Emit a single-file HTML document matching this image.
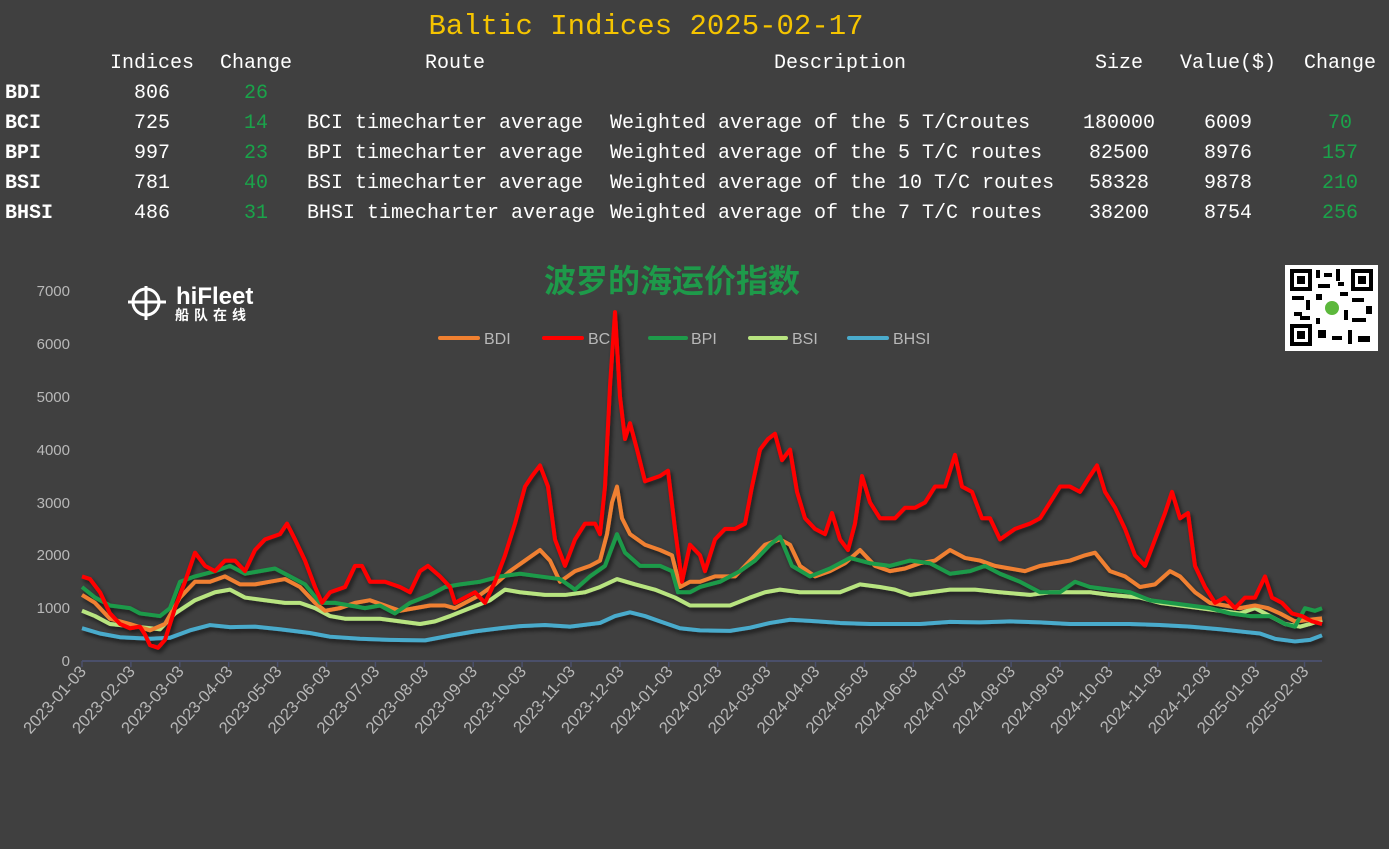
<!DOCTYPE html>
<html><head><meta charset="utf-8"><style>
body{margin:0;background:#404040;}
svg{display:block}
.t{font-family:"Liberation Mono",monospace;font-size:20px;fill:#fff}
.g{fill:#1aa34a}
.ax{font-family:"Liberation Sans",sans-serif;font-size:15px;fill:#b8b8b8}
.xa{font-family:"Liberation Sans",sans-serif;font-size:16.5px;fill:#b8b8b8}
</style></head><body>
<svg width="1389" height="849" viewBox="0 0 1389 849" xmlns="http://www.w3.org/2000/svg">
<defs><filter id="sh" x="-5%" y="-5%" width="110%" height="110%"><feDropShadow dx="2" dy="3" stdDeviation="2" flood-color="#000" flood-opacity="0.6"/></filter></defs>
<rect width="1389" height="849" fill="#404040"/>
<text x="646" y="34" text-anchor="middle" style="font-family:'Liberation Mono',monospace;font-size:29px;fill:#f5c400">Baltic Indices 2025-02-17</text>
<g class="t">
<text x="152" y="68" text-anchor="middle">Indices</text><text x="256" y="68" text-anchor="middle">Change</text>
<text x="455" y="68" text-anchor="middle">Route</text><text x="840" y="68" text-anchor="middle">Description</text>
<text x="1119" y="68" text-anchor="middle">Size</text><text x="1228" y="68" text-anchor="middle">Value($)</text><text x="1340" y="68" text-anchor="middle">Change</text>
<text x="5" y="98" font-weight="bold">BDI</text><text x="152" y="98" text-anchor="middle">806</text><text x="256" y="98" text-anchor="middle" class="g">26</text>
<text x="5" y="128" font-weight="bold">BCI</text><text x="152" y="128" text-anchor="middle">725</text><text x="256" y="128" text-anchor="middle" class="g">14</text><text x="307" y="128">BCI timecharter average</text><text x="610" y="128">Weighted average of the 5 T/Croutes</text><text x="1119" y="128" text-anchor="middle">180000</text><text x="1228" y="128" text-anchor="middle">6009</text><text x="1340" y="128" text-anchor="middle" class="g">70</text>
<text x="5" y="158" font-weight="bold">BPI</text><text x="152" y="158" text-anchor="middle">997</text><text x="256" y="158" text-anchor="middle" class="g">23</text><text x="307" y="158">BPI timecharter average</text><text x="610" y="158">Weighted average of the 5 T/C routes</text><text x="1119" y="158" text-anchor="middle">82500</text><text x="1228" y="158" text-anchor="middle">8976</text><text x="1340" y="158" text-anchor="middle" class="g">157</text>
<text x="5" y="188" font-weight="bold">BSI</text><text x="152" y="188" text-anchor="middle">781</text><text x="256" y="188" text-anchor="middle" class="g">40</text><text x="307" y="188">BSI timecharter average</text><text x="610" y="188">Weighted average of the 10 T/C routes</text><text x="1119" y="188" text-anchor="middle">58328</text><text x="1228" y="188" text-anchor="middle">9878</text><text x="1340" y="188" text-anchor="middle" class="g">210</text>
<text x="5" y="218" font-weight="bold">BHSI</text><text x="152" y="218" text-anchor="middle">486</text><text x="256" y="218" text-anchor="middle" class="g">31</text><text x="307" y="218">BHSI timecharter average</text><text x="610" y="218">Weighted average of the 7 T/C routes</text><text x="1119" y="218" text-anchor="middle">38200</text><text x="1228" y="218" text-anchor="middle">8754</text><text x="1340" y="218" text-anchor="middle" class="g">256</text>
</g>
<text x="672" y="292" text-anchor="middle" style="font-family:'Noto Sans CJK SC',sans-serif;font-size:32px;font-weight:bold;fill:#1e9a4a">波罗的海运价指数</text>
<g fill="#fff">
<circle cx="146" cy="302" r="13" fill="none" stroke="#fff" stroke-width="3"/><line x1="128" y1="302" x2="166" y2="302" stroke="#fff" stroke-width="3"/><line x1="146" y1="286" x2="146" y2="320" stroke="#fff" stroke-width="3"/>
<text x="176" y="304" style="font-family:'Liberation Sans',sans-serif;font-size:24px;font-weight:bold">hiFleet</text>
<text x="175" y="320" style="font-family:'Noto Sans CJK SC',sans-serif;font-size:14px;font-weight:bold;letter-spacing:5px">船队在线</text>
</g>
<rect x="1285" y="265" width="93" height="86" fill="#fff"/>
<g fill="#000">
<rect x="1290" y="269" width="22" height="22"/><rect x="1294" y="273" width="14" height="14" fill="#fff"/><rect x="1297" y="276" width="8" height="8"/>
<rect x="1351" y="269" width="22" height="22"/><rect x="1355" y="273" width="14" height="14" fill="#fff"/><rect x="1358" y="276" width="8" height="8"/>
<rect x="1290" y="324" width="22" height="22"/><rect x="1294" y="328" width="14" height="14" fill="#fff"/><rect x="1297" y="331" width="8" height="8"/>
<rect x="1316" y="270" width="4" height="8"/><rect x="1324" y="273" width="8" height="4"/><rect x="1336" y="269" width="4" height="12"/><rect x="1318" y="284" width="12" height="4"/><rect x="1292" y="296" width="12" height="4"/><rect x="1306" y="300" width="4" height="10"/><rect x="1294" y="312" width="8" height="4"/><rect x="1316" y="294" width="6" height="6"/><rect x="1340" y="292" width="8" height="4"/><rect x="1352" y="298" width="12" height="4"/><rect x="1366" y="306" width="6" height="8"/><rect x="1344" y="310" width="4" height="10"/><rect x="1352" y="318" width="14" height="4"/><rect x="1318" y="330" width="8" height="8"/><rect x="1332" y="336" width="10" height="4"/><rect x="1348" y="330" width="4" height="14"/><rect x="1358" y="336" width="12" height="6"/><rect x="1316" y="318" width="4" height="6"/><rect x="1338" y="282" width="6" height="4"/><rect x="1300" y="316" width="10" height="4"/>
</g>
<circle cx="1332" cy="308" r="7" fill="#5cb83c"/>
<g class="ax" text-anchor="end">
<text x="70" y="666">0</text><text x="70" y="613">1000</text><text x="70" y="560">2000</text><text x="70" y="508">3000</text><text x="70" y="455">4000</text><text x="70" y="402">5000</text><text x="70" y="349">6000</text><text x="70" y="296">7000</text>
</g>
<line x1="82" y1="661" x2="1322" y2="661" stroke="#4a4f6a" stroke-width="2"/>
<g stroke="#4a4f6a" stroke-width="1.5" id="ticks"></g>
<g class="xa" id="xl" text-anchor="end"></g>
<g style="font-family:'Liberation Sans',sans-serif;font-size:16px;fill:#b8b8b8" stroke-width="4" stroke-linecap="round">
<line x1="440" y1="338" x2="478" y2="338" stroke="#f08030"/><text x="484" y="344">BDI</text>
<line x1="544" y1="338" x2="582" y2="338" stroke="#ff0000"/><text x="588" y="344">BCI</text>
<line x1="650" y1="338" x2="686" y2="338" stroke="#1e9a4a"/><text x="691" y="344">BPI</text>
<line x1="750" y1="338" x2="786" y2="338" stroke="#b8e480"/><text x="792" y="344">BSI</text>
<line x1="849" y1="338" x2="887" y2="338" stroke="#4aabcc"/><text x="893" y="344">BHSI</text>
</g>
<g filter="url(#sh)">
<g transform="translate(0,661) scale(1,-0.05286)" fill="none" stroke-width="4" stroke-linejoin="round">
<polyline vector-effect="non-scaling-stroke" stroke="#4aabcc" points="82,620 100,520 120,450 150,420 170,440 190,580 210,680 230,640 255,650 280,600 310,530 330,460 360,420 390,400 425,390 450,480 475,560 500,620 520,660 545,680 570,650 600,720 615,850 630,920 645,850 660,750 680,620 700,580 730,570 750,630 770,720 790,780 810,760 840,720 870,700 890,700 920,700 950,740 980,730 1010,750 1040,730 1070,700 1100,700 1130,700 1160,680 1190,650 1220,600 1245,550 1260,520 1275,420 1295,370 1310,400 1322,486"/>
<polyline vector-effect="non-scaling-stroke" stroke="#b8e480" points="82,950 95,850 110,700 135,650 160,600 175,900 195,1150 215,1300 230,1350 245,1200 265,1150 285,1100 300,1100 315,1000 330,850 345,800 360,800 380,800 400,750 420,700 435,750 450,850 470,1000 490,1150 505,1350 520,1300 545,1250 565,1250 585,1300 600,1400 617,1550 635,1450 655,1350 675,1200 690,1050 710,1050 730,1050 750,1200 765,1300 780,1350 800,1300 820,1300 840,1300 860,1450 880,1400 895,1350 910,1250 930,1300 950,1350 975,1350 1000,1300 1030,1250 1050,1300 1070,1300 1090,1300 1110,1250 1140,1200 1160,1100 1180,1050 1200,1000 1220,950 1240,900 1255,1000 1270,850 1285,700 1300,650 1310,700 1322,781"/>
<polyline vector-effect="non-scaling-stroke" stroke="#f08030" points="82,1250 95,1100 110,800 130,700 150,580 165,700 180,1200 195,1500 210,1500 225,1600 240,1450 255,1450 270,1500 285,1550 300,1400 315,1100 325,950 340,1000 355,1100 370,1150 385,1050 400,950 415,1000 430,1050 445,1050 455,1000 465,1100 480,1250 495,1450 510,1700 525,1900 540,2100 550,1900 560,1500 575,1700 590,1800 600,1900 607,2400 612,3000 617,3300 622,2700 630,2400 645,2200 660,2100 672,2000 680,1400 690,1500 700,1500 715,1600 735,1600 750,1900 765,2200 780,2300 790,2200 800,1800 815,1600 830,1700 845,1850 860,2100 875,1800 890,1700 905,1750 920,1850 935,1900 950,2100 965,1950 980,1900 995,1800 1010,1750 1025,1700 1040,1800 1055,1850 1070,1900 1085,2000 1095,2050 1110,1700 1125,1600 1140,1400 1155,1450 1170,1700 1180,1600 1195,1300 1210,1100 1225,1050 1240,1000 1255,1050 1268,1000 1280,900 1295,750 1310,780 1322,806"/>
<polyline vector-effect="non-scaling-stroke" stroke="#1e9a4a" points="82,1400 95,1200 110,1050 130,1000 140,900 160,850 170,1000 180,1500 195,1600 215,1700 230,1800 245,1650 260,1700 275,1750 290,1600 305,1450 320,1100 335,1100 350,1050 365,1000 380,1050 395,900 410,1100 430,1250 445,1400 460,1450 480,1500 500,1600 520,1650 540,1600 560,1550 575,1350 590,1600 605,1800 617,2400 625,2050 640,1800 660,1800 672,1700 678,1300 690,1300 700,1400 720,1500 740,1700 755,1900 770,2200 780,2350 792,1800 810,1600 830,1750 850,1950 870,1850 890,1800 910,1900 930,1850 950,1650 970,1700 985,1800 1000,1650 1020,1500 1040,1300 1060,1300 1075,1500 1090,1400 1110,1350 1130,1300 1150,1150 1170,1100 1190,1050 1210,1000 1230,900 1250,850 1270,850 1285,700 1295,650 1305,1000 1315,950 1322,997"/>
<polyline vector-effect="non-scaling-stroke" stroke="#ff0000" points="82,1600 90,1550 100,1300 110,900 120,700 130,620 140,650 145,500 150,300 158,250 165,400 175,1000 185,1500 195,2050 205,1800 215,1700 225,1900 235,1900 245,1700 255,2100 265,2300 280,2400 287,2600 295,2300 305,1900 315,1400 322,1100 330,1300 345,1400 355,1800 362,1800 370,1500 385,1500 400,1400 410,1300 420,1700 428,1800 440,1600 450,1400 455,1100 465,1200 475,1300 485,1100 495,1500 505,2000 515,2600 525,3300 532,3500 540,3700 548,3300 555,2300 565,1800 575,2300 585,2600 595,2600 600,2400 605,3300 610,5200 615,6600 620,5000 625,4200 630,4500 637,4000 645,3400 660,3500 668,3600 675,2500 682,1500 690,2200 700,2000 705,1700 715,2300 725,2500 735,2500 745,2600 752,3300 760,4000 768,4200 775,4300 782,3800 790,4000 797,3200 805,2700 815,2500 825,2400 832,2800 840,2300 848,2100 855,2600 862,3500 870,3000 880,2700 895,2700 905,2900 915,2900 925,3000 935,3300 945,3300 955,3900 962,3300 972,3200 982,2700 990,2700 1000,2300 1015,2500 1030,2600 1040,2700 1050,3000 1060,3300 1070,3300 1080,3200 1090,3500 1097,3700 1105,3200 1115,2900 1125,2500 1135,2000 1145,1800 1155,2300 1165,2800 1172,3200 1180,2700 1188,2800 1195,1800 1205,1400 1215,1100 1225,1200 1235,1000 1245,1200 1255,1200 1265,1600 1272,1200 1282,1100 1292,900 1302,850 1312,750 1322,700"/>
</g></g>
<script>
var lab=["2023-01-03","2023-02-03","2023-03-03","2023-04-03","2023-05-03","2023-06-03","2023-07-03","2023-08-03","2023-09-03","2023-10-03","2023-11-03","2023-12-03","2024-01-03","2024-02-03","2024-03-03","2024-04-03","2024-05-03","2024-06-03","2024-07-03","2024-08-03","2024-09-03","2024-10-03","2024-11-03","2024-12-03","2025-01-03","2025-02-03"];
var NS="http://www.w3.org/2000/svg",tk=document.getElementById("ticks"),xl=document.getElementById("xl");
lab.forEach(function(s,i){var x=82+i*48.9;
var l=document.createElementNS(NS,"line");l.setAttribute("x1",x);l.setAttribute("x2",x);l.setAttribute("y1",661);l.setAttribute("y2",667);tk.appendChild(l);
var t=document.createElementNS(NS,"text");t.setAttribute("transform","translate("+(x+5)+",672) rotate(-48)");t.textContent=s;xl.appendChild(t);});
</script>
</svg>
</body></html>
